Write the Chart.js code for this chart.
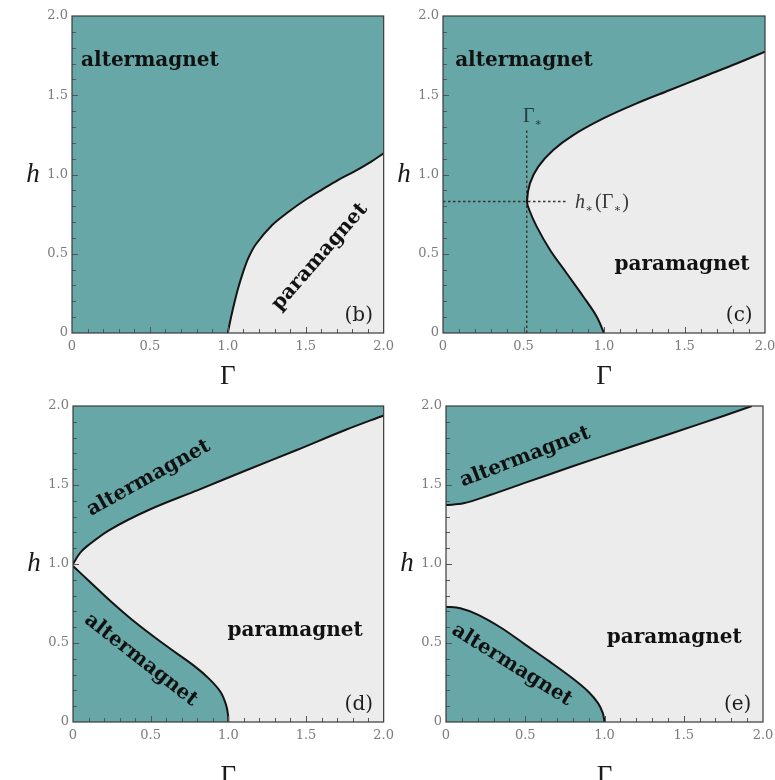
<!DOCTYPE html>
<html>
<head>
<meta charset="utf-8">
<title>Altermagnet / paramagnet phase diagrams</title>
<script src="https://cdn.jsdelivr.net/npm/chart.js@4.4.1/dist/chart.umd.min.js"></script>
<style>
  html, body { margin: 0; padding: 0; background: #fff; width: 775px; height: 780px; overflow: hidden; }
  canvas { position: absolute; }
</style>
</head>
<body>
<canvas id="panelB"></canvas>
<canvas id="panelC"></canvas>
<canvas id="panelD"></canvas>
<canvas id="panelE"></canvas>
<script>
// ---- axis ticks shared by every panel ----
const tickValues = [0, 0.5, 1.0, 1.5, 2.0];
const tickLabels = ['0', '0.5', '1.0', '1.5', '2.0'];

// ---- (b) phase boundary  h(Γ) ----
const gammaB = [1.0, 1.012, 1.03, 1.063, 1.1, 1.135, 1.18, 1.285, 1.39, 1.496, 1.60, 1.707, 1.81, 1.918, 2.0];
const hB     = [0, 0.06, 0.14, 0.271, 0.39, 0.48, 0.56, 0.681, 0.765, 0.839, 0.902, 0.965, 1.018, 1.08, 1.134];

// ---- (c) re-entrant boundary ----
const gammaC = [1.0, 0.955, 0.872, 0.768, 0.665, 0.582, 0.536, 0.522, 0.54, 0.592, 0.685, 0.809, 0.996, 1.203, 1.41, 1.617, 1.824, 2.0];
const hC     = [0, 0.103, 0.229, 0.377, 0.524, 0.671, 0.776, 0.83, 0.944, 1.05, 1.155, 1.249, 1.354, 1.449, 1.533, 1.617, 1.70, 1.775];
// Γ* and h*(Γ*) guide lines
const guideVGamma = [0.52, 0.52];
const guideVH     = [0, 1.29];
const guideHGamma = [0, 0.768];
const guideHH     = [0.83, 0.83];

// ---- (d) two boundaries meeting at h = 1 ----
const gammaDUpper = [0, 0.044, 0.087, 0.234, 0.487, 0.804, 1.12, 1.437, 1.753, 2.0];
const hDUpper     = [1.0, 1.068, 1.11, 1.215, 1.342, 1.468, 1.595, 1.72, 1.848, 1.94];
const gammaDLower = [0, 0.108, 0.234, 0.382, 0.593, 0.78, 0.88, 0.95, 0.985, 0.998, 1.0];
const hDLower     = [0.987, 0.888, 0.772, 0.646, 0.487, 0.355, 0.27, 0.19, 0.11, 0.045, 0];

// ---- (e) two separated altermagnet pockets ----
const gammaEUpper = [0, 0.11, 0.278, 0.488, 0.804, 1.12, 1.435, 1.75, 1.93];
const hEUpper     = [1.373, 1.384, 1.437, 1.51, 1.62, 1.726, 1.831, 1.937, 2.0];
const gammaELower = [0, 0.09, 0.2, 0.35, 0.5, 0.65, 0.8, 0.9, 0.96, 0.99, 1.0];
const hELower     = [0.73, 0.72, 0.68, 0.595, 0.49, 0.385, 0.275, 0.19, 0.118, 0.055, 0];

// ---- region corners (Γ, h) that close each altermagnet area ----
const cornersTopLeft   = { gamma: [2, 0, 0], h: [2, 2, 0] };
const cornersUpperBand = { gamma: [2, 0],    h: [2, 2] };
const cornersUpperLeft = { gamma: [0],       h: [2] };
const cornersOrigin    = { gamma: [0],       h: [0] };

const TEAL = '#68a7a7';
const PARA = '#ececec';
const TICK_COLOR = '#7b7b7b';
const INK = '#141414';
const TENSION = 0.35;

const toPoints = (gs, hs) => gs.map((g, i) => ({ x: g, y: hs[i] }));

// Closed outline: boundary curve followed by the corners. Each junction is
// repeated so the smoothed curve segment is identical to the drawn boundary
// and the straight edges stay straight.
function regionPoints(gs, hs, corners) {
  const curve = toPoints(gs, hs);
  const pts = [curve[0], ...curve, curve[curve.length - 1]];
  corners.gamma.forEach((g, i) => {
    const p = { x: g, y: corners.h[i] };
    pts.push(p, p);
  });
  return pts;
}

const boundary = (gs, hs) => ({
  data: toPoints(gs, hs), borderColor: INK, borderWidth: 2, tension: TENSION,
  fill: false, pointRadius: 0
});
const region = (gs, hs, corners) => ({
  data: regionPoints(gs, hs, corners), borderColor: 'rgba(0,0,0,0)', borderWidth: 0,
  backgroundColor: TEAL, fill: 'shape', tension: TENSION, pointRadius: 0
});
const guide = (gs, hs) => ({
  data: toPoints(gs, hs), borderColor: '#333', borderWidth: 1.4, borderDash: [2.5, 2.5],
  tension: 0, fill: false, pointRadius: 0
});

// Frame, inward ticks, axis letter h, region names and panel tags
const panelDecor = {
  id: 'panelDecor',
  beforeDraw(chart) {
    const { ctx, chartArea: a } = chart;
    ctx.save();
    ctx.fillStyle = PARA;
    ctx.fillRect(a.left, a.top, a.right - a.left, a.bottom - a.top);
    ctx.restore();
  },
  afterDraw(chart, args, opts) {
    const { ctx, chartArea: a, scales: { x, y } } = chart;
    ctx.save();
    ctx.strokeStyle = '#555';
    ctx.lineWidth = 1;
    for (let i = 1; i < 20; i++) {
      const v = i / 10;
      const len = i % 5 === 0 ? 6 : 4;
      const px = Math.round(x.getPixelForValue(v)) + 0.5;
      ctx.beginPath(); ctx.moveTo(px, a.bottom); ctx.lineTo(px, a.bottom - len); ctx.stroke();
      const py = Math.round(y.getPixelForValue(v)) + 0.5;
      ctx.beginPath(); ctx.moveTo(a.left, py); ctx.lineTo(a.left + len, py); ctx.stroke();
    }
    ctx.strokeStyle = '#3a3a3a';
    ctx.lineWidth = 1.2;
    ctx.strokeRect(a.left, a.top, a.right - a.left, a.bottom - a.top);

    // vertical axis letter, written upright beside the 1.0 tick
    ctx.fillStyle = '#1a1a1a';
    ctx.font = 'italic 27px "Liberation Serif"';
    ctx.textAlign = 'center';
    ctx.textBaseline = 'alphabetic';
    ctx.fillText('h', a.left - 39, y.getPixelForValue(1.0) + 7);

    // phase names
    ctx.fillStyle = '#111';
    ctx.font = 'bold 20px "DejaVu Serif"';
    ctx.textBaseline = 'middle';
    opts.names.text.forEach((t, i) => {
      ctx.save();
      ctx.translate(x.getPixelForValue(opts.names.gamma[i]), y.getPixelForValue(opts.names.h[i]));
      ctx.rotate(opts.names.angle[i] * Math.PI / 180);
      ctx.fillText(t, 0, 0);
      ctx.restore();
    });

    // panel tag
    ctx.fillStyle = '#1e1e1e';
    ctx.font = '20px "DejaVu Serif"';
    ctx.fillText(opts.tag, x.getPixelForValue(1.84), y.getPixelForValue(0.11));

    // run-by-run annotations with subscripts
    ctx.textAlign = 'left';
    ctx.textBaseline = 'alphabetic';
    (opts.notes || []).forEach(n => {
      let px = x.getPixelForValue(n.gamma);
      const py = y.getPixelForValue(n.h);
      ctx.fillStyle = n.color;
      n.runs.forEach(r => {
        ctx.font = r.font;
        ctx.fillText(r.text, px, py + (r.dy || 0));
        px += ctx.measureText(r.text).width + (r.gap || 0);
      });
    });
    ctx.restore();
  }
};

const MAIN = '20px "Liberation Serif"';
const MAIN_IT = 'italic 20px "Liberation Serif"';
const SUB = '11px "DejaVu Serif"';

const panels = [
  {
    canvas: 'panelB', left: 0, top: 0, width: 400, height: 400,
    area: { l: 72, t: 16, r: 388, b: 333 }, titlePad: 9.5,
    datasets: [boundary(gammaB, hB), region(gammaB, hB, cornersTopLeft)],
    decor: {
      tag: '(b)',
      names: { text: ['altermagnet', 'paramagnet'], gamma: [0.5, 1.59], h: [1.72, 0.48], angle: [0, -49] }
    }
  },
  {
    canvas: 'panelC', left: 395, top: 0, width: 390, height: 400,
    area: { l: 443, t: 16, r: 765, b: 333 }, titlePad: 9.5,
    datasets: [boundary(gammaC, hC), guide(guideVGamma, guideVH), guide(guideHGamma, guideHH),
               region(gammaC, hC, cornersTopLeft)],
    decor: {
      tag: '(c)',
      names: { text: ['altermagnet', 'paramagnet'], gamma: [0.503, 1.485], h: [1.716, 0.43], angle: [0, 0] },
      notes: [
        { gamma: 0.497, h: 1.331, color: '#243a3b',
          runs: [{ text: 'Γ', font: '20px "Liberation Serif"' }, { text: '∗', font: SUB, dy: 4 }] },
        { gamma: 0.82, h: 0.789, color: '#383838',
          runs: [{ text: 'h', font: MAIN_IT, gap: 0.5 }, { text: '∗', font: SUB, dy: 4, gap: 2 },
                 { text: '(Γ', font: MAIN, gap: 0.5 }, { text: '∗', font: SUB, dy: 4, gap: 1 },
                 { text: ')', font: MAIN }] }
      ]
    }
  },
  {
    canvas: 'panelD', left: 0, top: 390, width: 400, height: 400,
    area: { l: 73, t: 406, r: 389, b: 722 }, titlePad: 0,
    datasets: [boundary(gammaDUpper, hDUpper), boundary(gammaDLower, hDLower),
               region(gammaDUpper, hDUpper, cornersUpperBand), region(gammaDLower, hDLower, cornersOrigin)],
    decor: {
      tag: '(d)',
      names: { text: ['altermagnet', 'altermagnet', 'paramagnet'], gamma: [0.487, 0.437, 1.43],
               h: [1.544, 0.392, 0.576], angle: [-29, 38, 0] }
    }
  },
  {
    canvas: 'panelE', left: 395, top: 390, width: 390, height: 400,
    area: { l: 446, t: 406, r: 763, b: 722 }, titlePad: 0,
    datasets: [boundary(gammaEUpper, hEUpper), boundary(gammaELower, hELower),
               region(gammaEUpper, hEUpper, cornersUpperLeft), region(gammaELower, hELower, cornersOrigin)],
    decor: {
      tag: '(e)',
      names: { text: ['altermagnet', 'altermagnet', 'paramagnet'], gamma: [0.5, 0.416, 1.44],
               h: [1.677, 0.36, 0.53], angle: [-21, 32, 0] }
    }
  }
];

const tickText = v => {
  const i = tickValues.findIndex(t => Math.abs(t - v) < 1e-9);
  return i < 0 ? '' : tickLabels[i];
};

panels.forEach(p => {
  const cv = document.getElementById(p.canvas);
  cv.width = p.width; cv.height = p.height;
  cv.style.left = p.left + 'px'; cv.style.top = p.top + 'px';
  const tickFont = { family: 'DejaVu Serif', size: 13 };
  new Chart(cv, {
    type: 'line',
    data: { datasets: p.datasets },
    plugins: [panelDecor],
    options: {
      responsive: false, animation: false, events: [],
      layout: { padding: { top: p.area.t - p.top, right: p.left + p.width - p.area.r, left: 0, bottom: 0 } },
      plugins: { legend: { display: false }, tooltip: { enabled: false }, panelDecor: p.decor },
      scales: {
        x: {
          type: 'linear', min: 0, max: 2,
          grid: { display: false, drawTicks: false }, border: { display: false },
          ticks: { stepSize: 0.5, autoSkip: false, maxRotation: 0, padding: 6, color: TICK_COLOR,
                   font: tickFont, callback: tickText },
          title: { display: true, text: 'Γ', color: '#1a1a1a',
                   font: { family: 'Liberation Serif', size: 27, lineHeight: 1 },
                   padding: { top: 0, bottom: p.titlePad } },
          afterFit: s => { s.height = p.top + p.height - p.area.b; }
        },
        y: {
          type: 'linear', min: 0, max: 2,
          grid: { display: false, drawTicks: false }, border: { display: false },
          ticks: { stepSize: 0.5, autoSkip: false, padding: 4, color: TICK_COLOR,
                   font: tickFont, callback: tickText },
          afterFit: s => { s.width = p.area.l - p.left; }
        }
      }
    }
  });
});
</script>
</body>
</html>
